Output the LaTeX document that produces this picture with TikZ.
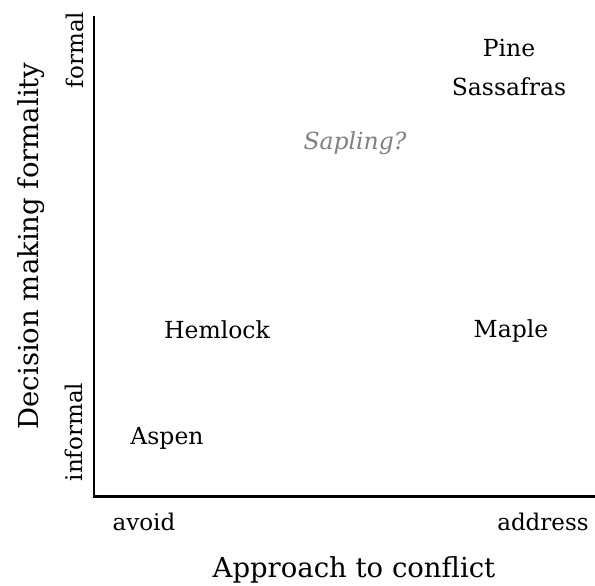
\documentclass[tikz,border=0pt]{standalone}
\usepackage{fontspec}
\setmainfont{DejaVu Serif}
\begin{document}
\begin{tikzpicture}[x=1pt,y=-1pt,
  lbl/.style={font=\fontsize{23.5}{27}\selectfont, inner sep=0pt},
  tick/.style={font=\fontsize{23}{27}\selectfont, inner sep=0pt},
  axtitle/.style={font=\fontsize{27.5}{32}\selectfont, inner sep=0pt},
  axis/.style={line width=2.2pt}]
\useasboundingbox (0,0) rectangle (595,586);
\coordinate (top) at (94,16);
\coordinate (origin) at (94,496.5);
\coordinate (right) at (595,496.5);
\draw[axis] (top) -- (origin) -- (right);
\node[tick, rotate=90] (formal) at (75,50) {formal};
\node[tick, rotate=90] (informal) at (74,432) {informal};
\node[axtitle, rotate=90] (ytitle) at (31,246) {Decision making formality};
\node[tick] (avoid) at (144,522) {avoid};
\node[tick] (address) at (543,522) {address};
\node[axtitle] (xtitle) at (354,570) {Approach to conflict};
\node[lbl] (pine) at (509,48) {Pine};
\node[lbl] (sassafras) at (509,87) {Sassafras};
\node[lbl, text=gray, font=\fontsize{23.5}{27}\selectfont\itshape] (sapling) at (355,143) {Sapling?};
\node[lbl] (hemlock) at (217,330) {Hemlock};
\node[lbl] (maple) at (511,331) {Maple};
\node[lbl] (aspen) at (167,438) {Aspen};
\end{tikzpicture}
\end{document}
